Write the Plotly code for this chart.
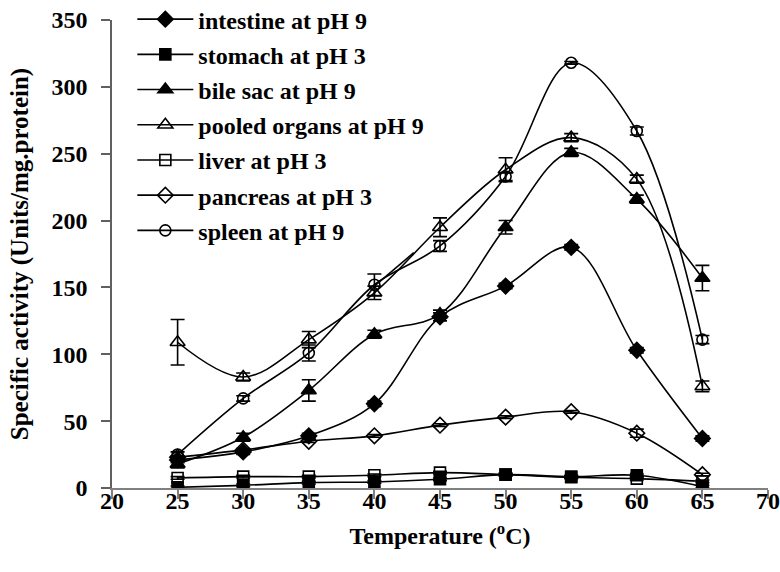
import plotly.graph_objects as go

temperature = [25, 30, 35, 40, 45, 50, 55, 60, 65]

intestine = [21, 27, 39, 63, 128, 151, 180, 103, 37]
stomach = [0.5, 2, 4, 4.5, 6.5, 10, 8.5, 9.5, 1]
bile_sac = [18, 38, 73, 115, 130, 195, 251, 216, 157]
pooled = [109, 83, 111, 146, 195, 238, 262, 231, 76]
liver = [7.5, 8.5, 8.5, 9.5, 11.5, 10, 8, 7, 5]
pancreas = [23, 28.5, 35, 39, 47, 53, 57, 41, 10]
spleen = [25, 67, 101, 152, 181, 233, 318, 267, 111]

intestine_err = [2, 2, 2, 2, 3, 2, 2, 2, 2]
stomach_err = [1, 1, 1, 1, 1, 1, 1, 1, 1]
bile_sac_err = [3, 3, 8, 3, 3, 5, 3, 3, 9.5]
pooled_err = [17, 3, 6, 5, 7, 9, 3, 3, 4]
liver_err = [1, 1, 1, 1, 1, 1, 1, 1, 1]
pancreas_err = [1, 1, 1, 1, 1, 1, 1, 3, 1]
spleen_err = [2, 2, 6, 8, 4, 3, 1, 3, 3]

x_ticks = [20, 25, 30, 35, 40, 45, 50, 55, 60, 65, 70]
y_ticks = [0, 50, 100, 150, 200, 250, 300, 350]

# stray straight segment visible in the original chart
stray_x = [40, 43]
stray_y = [151, 176]

series = [
    ("intestine at pH 9", intestine, intestine_err, "diamond", 12),
    ("stomach at pH 3", stomach, stomach_err, "square", 11),
    ("bile sac at pH 9", bile_sac, bile_sac_err, "triangle-up", 13),
    ("pooled organs at pH 9", pooled, pooled_err, "triangle-up-open", 13),
    ("liver at pH 3", liver, liver_err, "square-open", 11),
    ("pancreas at pH 3", pancreas, pancreas_err, "diamond-open", 12),
    ("spleen at pH 9", spleen, spleen_err, "circle-open", 11),
]

FONT = "Liberation Serif"
fig = go.Figure()
for i, (name, vals, err, sym, size) in enumerate(series):
    fig.add_trace(go.Scatter(
        x=temperature, y=vals, name=f"<b>{name}</b>", mode="lines+markers",
        legendgroup=f"g{i}",
        line=dict(color="black", width=1.6, shape="spline", smoothing=1.0),
        marker=dict(symbol=sym, size=size, color="black",
                    line=dict(color="black", width=1.6)),
        error_y=dict(type="data", array=err, visible=True, color="black",
                     thickness=1.6, width=7),
    ))

fig.add_trace(go.Scatter(x=stray_x, y=stray_y, mode="lines", showlegend=False,
                         line=dict(color="black", width=1.6), hoverinfo="skip"))

fig.update_layout(
    width=780, height=572,
    margin=dict(l=112, r=12, t=20, b=84, autoexpand=False),
    paper_bgcolor="white", plot_bgcolor="white",
    font=dict(family=FONT, size=22, color="black"),
    showlegend=True,
    legend=dict(x=0.031, y=1.049, xanchor="left", yanchor="top",
                bgcolor="rgba(0,0,0,0)", tracegroupgap=1,
                font=dict(family=FONT, size=24, color="black"),
                itemwidth=56),
    xaxis=dict(range=[20, 70], tickmode="array",
               tickvals=x_ticks, ticktext=[f"<b>{v}</b>" for v in x_ticks],
               showgrid=False, zeroline=False, showline=True,
               linecolor="#808080", linewidth=1.5, ticks="outside",
               ticklen=9, tickcolor="#808080", tickwidth=1.5,
               ticklabelstandoff=-19, automargin=False,
               tickfont=dict(family=FONT, size=24),
               title=dict(text="<b>Temperature (<sup>o</sup>C)</b>", standoff=15,
                          font=dict(family=FONT, size=24))),
    yaxis=dict(range=[0, 350], tickmode="array",
               tickvals=y_ticks, ticktext=[f"<b>{v}</b>" for v in y_ticks],
               showgrid=False, zeroline=False, showline=True,
               linecolor="#606060", linewidth=1.5, ticks="outside",
               ticklen=9, tickcolor="#606060", tickwidth=1.5,
               ticklabelstandoff=9, automargin=False,
               tickfont=dict(family=FONT, size=24),
               title=dict(text="<b>Specific activity (Units/mg.protein)</b>", standoff=16,
                          font=dict(family=FONT, size=25))),
)

fig.write_html("out.html")
